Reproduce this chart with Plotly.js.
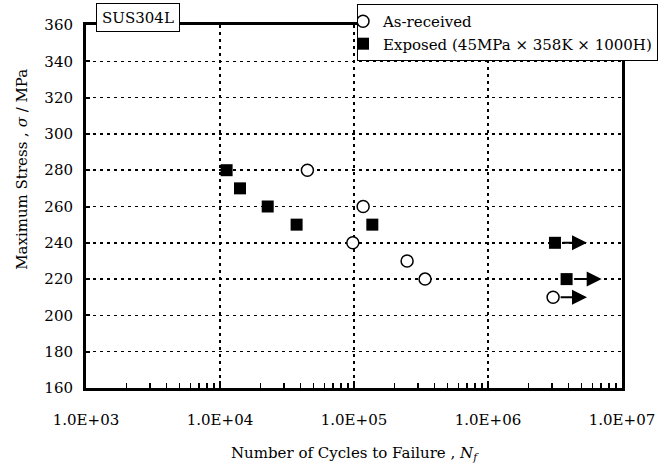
<!DOCTYPE html>
<html>
<head>
<meta charset="utf-8">
<script src="https://cdn.plot.ly/plotly-3.0.1.min.js"></script>
<style>html,body{margin:0;padding:0;background:#fff;}#chart{width:666px;height:463px;}</style>
</head>
<body>
<div id="chart"></div>
<script>
// ---- data ----
const asReceivedCycles = [4.49e4, 1.17e5, 9.8e4, 2.49e5, 3.39e5, 3.06e6];
const asReceivedStress = [280, 260, 240, 230, 220, 210];
const exposedCycles = [1.12e4, 1.41e4, 2.27e4, 3.73e4, 1.37e5, 3.16e6, 3.86e6];
const exposedStress = [280, 270, 260, 250, 250, 240, 220];
// run-out specimens (did not fail): start point and arrow tip
const runoutCycles = [3.16e6, 3.86e6, 3.06e6];
const runoutStress = [240, 220, 210];
const runoutArrowTip = [5.48e6, 7.05e6, 5.48e6];
const xTickVals = [1e3, 1e4, 1e5, 1e6, 1e7];
const xTickText = ["1.0E+03", "1.0E+04", "1.0E+05", "1.0E+06", "1.0E+07"];
const seriesNames = ["As-received", "Exposed (45MPa × 358K × 1000H)"];

const FONT = "DejaVu Serif";

const traces = [
  {
    x: asReceivedCycles, y: asReceivedStress, name: seriesNames[0],
    type: "scatter", mode: "markers",
    marker: {symbol: "circle", size: 12, color: "#ffffff", line: {color: "#000", width: 1.5}}
  },
  {
    x: exposedCycles, y: exposedStress, name: seriesNames[1],
    type: "scatter", mode: "markers",
    marker: {symbol: "square", size: 12, color: "#000", line: {color: "#000", width: 0}}
  }
];

const annotations = runoutCycles.map((c, i) => ({
  xref: "x", yref: "y", axref: "x", ayref: "y",
  x: Math.log10(runoutArrowTip[i]), y: runoutStress[i],
  ax: Math.log10(c), ay: runoutStress[i],
  text: "", showarrow: true, arrowhead: 2, arrowsize: 1.5, arrowwidth: 2,
  arrowcolor: "#000", startstandoff: 6, standoff: 0
}));

annotations.push({
  xref: "paper", yref: "paper", x: 0.097, y: 1.022,
  xanchor: "center", yanchor: "middle",
  text: "SUS304L", showarrow: false,
  font: {family: FONT, size: 15, color: "#000"},
  bgcolor: "#fff", bordercolor: "#000", borderwidth: 1, borderpad: 3,
  width: 76, height: 21
});

annotations.push({
  xref: "paper", yref: "paper", x: -0.1194, y: 0.601,
  xanchor: "center", yanchor: "middle", textangle: -90,
  text: "Maximum Stress , <i>σ</i> / MPa", showarrow: false,
  font: {family: FONT, size: 15, color: "#000"}
});

const gridDash = "3px,4px";

const layout = {
  width: 666, height: 463,
  margin: {l: 86, r: 44, t: 25, b: 75, pad: 0, autoexpand: false},
  paper_bgcolor: "#fff", plot_bgcolor: "#fff",
  showlegend: true,
  legend: {
    x: 0.5056, y: 1.058, xanchor: "left", yanchor: "top",
    bgcolor: "#fff", bordercolor: "#000", borderwidth: 1,
    font: {family: FONT, size: 15, color: "#000"},
    indentation: -15, traceorder: "normal"
  },
  xaxis: {
    type: "log", range: [3, 7],
    tickvals: xTickVals, ticktext: xTickText,
    tickfont: {family: FONT, size: 15, color: "#000"},
    ticks: "inside", ticklen: 7, tickwidth: 1.5, tickcolor: "#000",
    ticklabelstandoff: 16,
    minor: {ticks: "inside", ticklen: 5, tickwidth: 1.5, tickcolor: "#000", dtick: "D1", showgrid: false},
    showgrid: true, gridcolor: "#000", gridwidth: 1.5, griddash: gridDash,
    showline: true, linecolor: "#000", linewidth: 3, mirror: true, zeroline: false,
    title: {text: "Number of Cycles to Failure , <i>N</i><sub><i>f</i></sub>", font: {family: FONT, size: 15, color: "#000"}, standoff: 20}
  },
  yaxis: {
    range: [160, 360], dtick: 20, tick0: 160,
    tickfont: {family: FONT, size: 15, color: "#000"},
    ticks: "inside", ticklen: 4, tickwidth: 2, tickcolor: "#000",
    ticklabelstandoff: 7,
    showgrid: true, gridcolor: "#000", gridwidth: 1.5, griddash: gridDash,
    showline: true, linecolor: "#000", linewidth: 3, mirror: true, zeroline: false
  },
  annotations: annotations
};

Plotly.newPlot("chart", traces, layout, {displayModeBar: false, staticPlot: true});
</script>
</body>
</html>
